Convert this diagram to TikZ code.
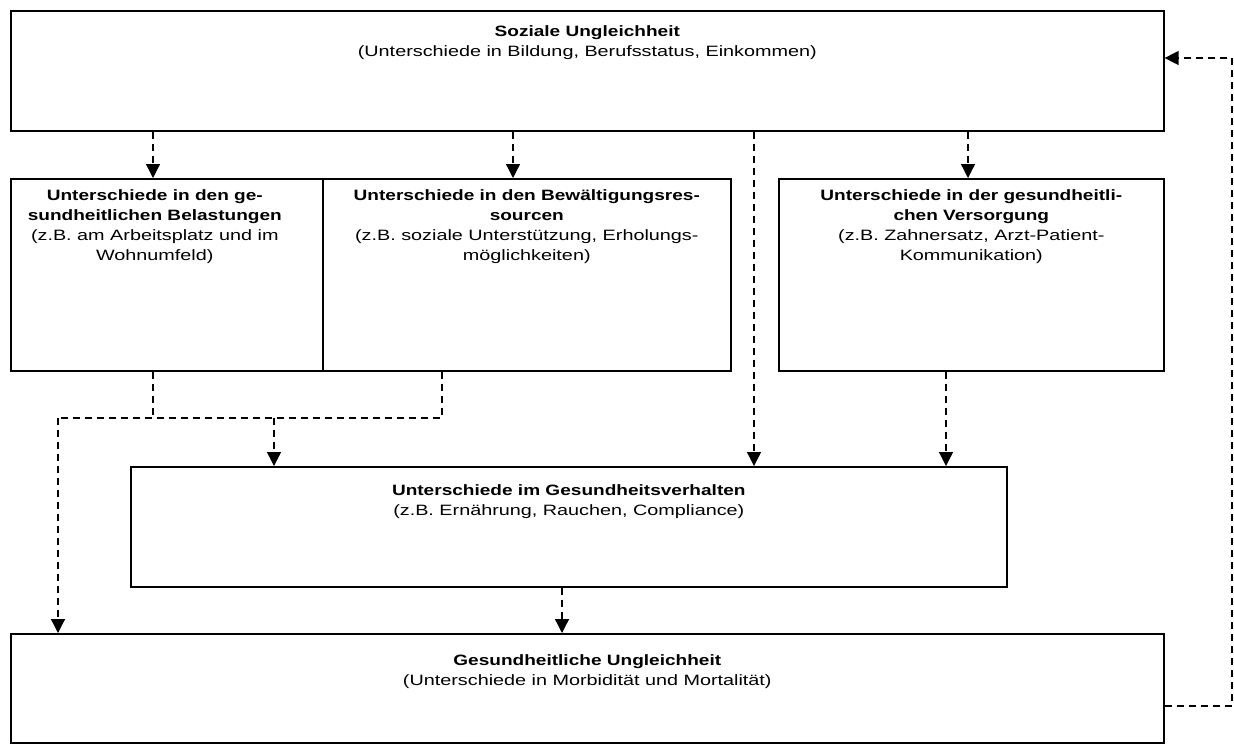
\documentclass[tikz,border=0pt]{standalone}
\usepackage{fontspec}
\setmainfont{Liberation Sans}[FakeStretch=1.32, BoldFeatures={FakeStretch=1.27}]
\usetikzlibrary{arrows.meta, positioning}

\begin{document}
\begin{tikzpicture}[
    x=1pt, y=-1pt,
    box/.style={rectangle, draw, line width=1.6pt, anchor=north west, inner sep=0pt},
    txt/.style={align=center, font=\fontsize{15}{20}\selectfont, inner sep=0pt},
    arrow/.style={-{Triangle[length=14pt, width=14pt]}, dashed, line width=1.3pt, dash pattern=on 7pt off 5pt},
    link/.style={dashed, line width=1.3pt, dash pattern=on 7pt off 5pt}
]
\useasboundingbox (0,0) rectangle (1234,752);

% boxes
\node[box, minimum width=1153pt, minimum height=120pt] (soz) at (10,10) {};
\node[box, minimum width=312pt, minimum height=192pt] (bel) at (10,178) {};
\node[box, minimum width=408pt, minimum height=192pt] (bew) at (322,178) {};
\node[box, minimum width=385pt, minimum height=192pt] (ver) at (778,178) {};
\node[box, minimum width=876pt, minimum height=120pt] (verh) at (130,466) {};
\node[box, minimum width=1153pt, minimum height=109pt] (ges) at (10,633) {};

% texts
\node[txt, anchor=north, below=15pt of soz.north] (soz_t) {\textbf{Soziale Ungleichheit}\\(Unterschiede in Bildung, Berufsstatus, Einkommen)};
\node[txt, anchor=north, below=11pt of bel.north, xshift=-12pt] (bel_t) {\textbf{Unterschiede in den ge-}\\\textbf{sundheitlichen Belastungen}\\(z.B. am Arbeitsplatz und im\\Wohnumfeld)};
\node[txt, anchor=north, below=11pt of bew.north] (bew_t) {\textbf{Unterschiede in den Bewältigungsres-}\\\textbf{sourcen}\\(z.B. soziale Unterstützung, Erholungs-\\möglichkeiten)};
\node[txt, anchor=north, below=11pt of ver.north] (ver_t) {\textbf{Unterschiede in der gesundheitli-}\\\textbf{chen Versorgung}\\(z.B. Zahnersatz, Arzt-Patient-\\Kommunikation)};
\node[txt, anchor=north, below=18pt of verh.north] (verh_t) {\textbf{Unterschiede im Gesundheitsverhalten}\\(z.B. Ernährung, Rauchen, Compliance)};
\node[txt, anchor=north, below=21pt of ges.north] (ges_t) {\textbf{Gesundheitliche Ungleichheit}\\(Unterschiede in Morbidität und Mortalität)};

% x positions of the connectors
\coordinate (c_bel) at (153,0);
\coordinate (c_bew) at (513,0);
\coordinate (c_mid) at (754,0);
\coordinate (c_ver) at (968,0);
\coordinate (c_verb) at (946,0);
\coordinate (c_out) at (442,0);
\coordinate (c_in) at (274,0);
\coordinate (c_left) at (58,0);
\coordinate (c_low) at (562,0);
\coordinate (c_right) at (1232,0);
\coordinate (c_back) at (0,58);
\coordinate (c_fb) at (0,706);
\coordinate (c_join) at (0,418);

% arrows
\draw[arrow] (soz.south -| c_bel) -- (bel.north -| c_bel);
\draw[arrow] (soz.south -| c_bew) -- (bew.north -| c_bew);
\draw[arrow] (soz.south -| c_mid) -- (verh.north -| c_mid);
\draw[arrow] (soz.south -| c_ver) -- (ver.north -| c_ver);

\draw[link] (bel.south -| c_bel) -- (c_join -| c_bel);
\draw[link] (bew.south -| c_out) -- (c_join -| c_out) -- (c_join -| c_left);
\draw[arrow] (c_join -| c_in) -- (verh.north -| c_in);
\draw[arrow] (c_join -| c_left) -- (ges.north -| c_left);
\draw[arrow] (ver.south -| c_verb) -- (verh.north -| c_verb);
\draw[arrow] (verh.south -| c_low) -- (ges.north -| c_low);

\draw[arrow] (ges.east |- c_fb) -- (c_right |- c_fb) -- (c_right |- c_back) -- (soz.east |- c_back);

\end{tikzpicture}
\end{document}
